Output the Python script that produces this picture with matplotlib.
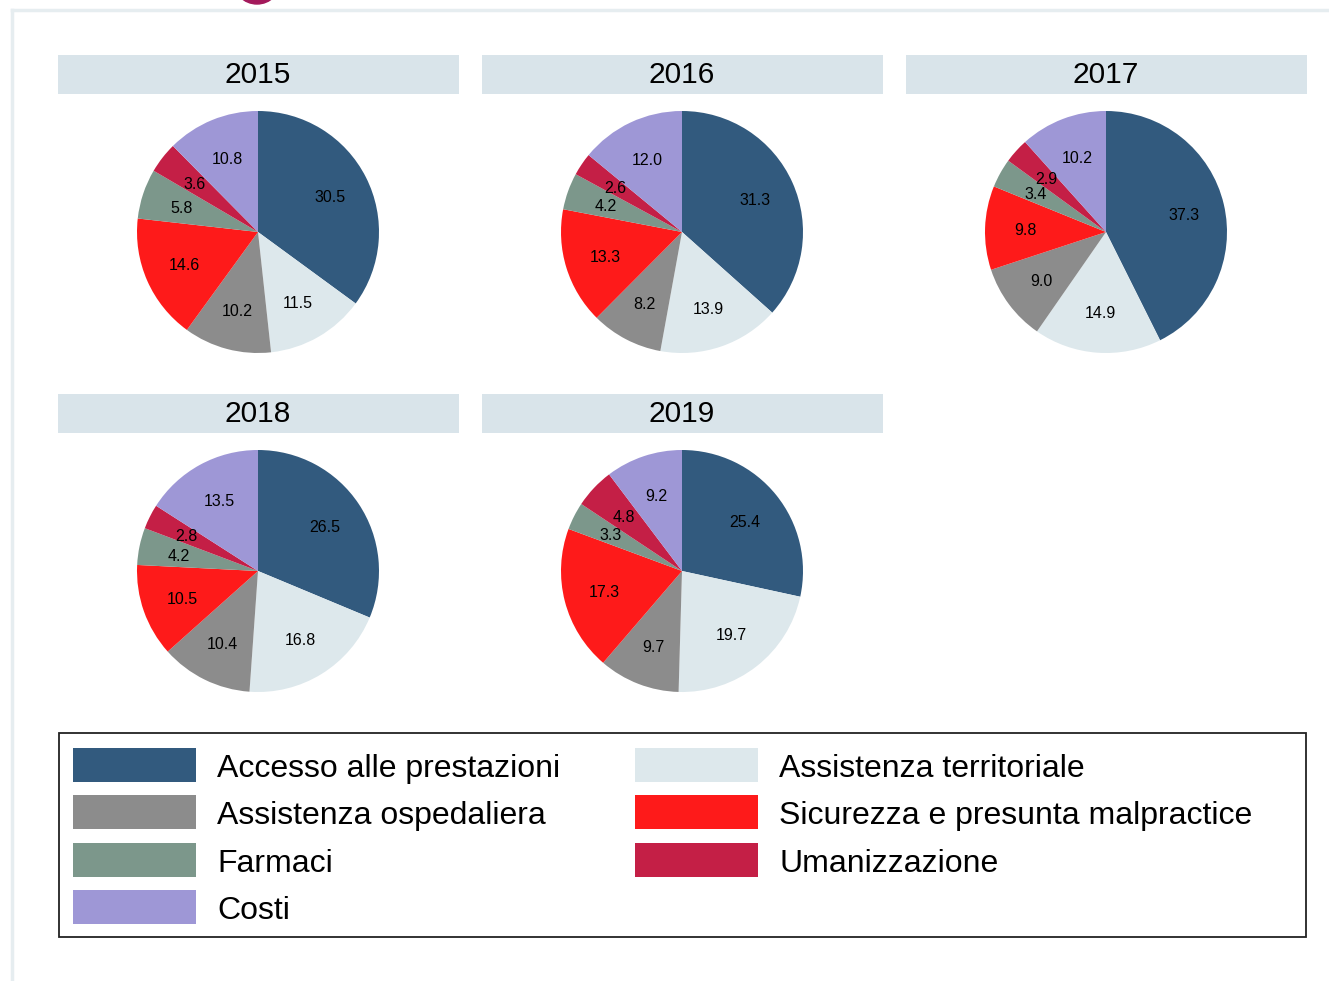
import matplotlib
matplotlib.use('Agg')
import matplotlib.pyplot as plt
from matplotlib.patches import Rectangle, Ellipse
from matplotlib.lines import Line2D

plt.rcParams['font.family'] = ['Liberation Sans', 'DejaVu Sans']

# categories, in clockwise order starting from 12 o'clock
categories = ['Accesso alle prestazioni', 'Assistenza territoriale', 'Assistenza ospedaliera',
              'Sicurezza e presunta malpractice', 'Farmaci', 'Umanizzazione', 'Costi']
colors = ['#325a7e', '#dde8ec', '#8c8c8c', '#fe1a1a', '#7c978b', '#c41f46', '#9e97d6']

years = ['2015', '2016', '2017', '2018', '2019']
v2015 = [30.5, 11.5, 10.2, 14.6, 5.8, 3.6, 10.8]
v2016 = [31.3, 13.9, 8.2, 13.3, 4.2, 2.6, 12.0]
v2017 = [37.3, 14.9, 9.0, 9.8, 3.4, 2.9, 10.2]
v2018 = [26.5, 16.8, 10.4, 10.5, 4.2, 2.8, 13.5]
v2019 = [25.4, 19.7, 9.7, 17.3, 3.3, 4.8, 9.2]
values = [v2015, v2016, v2017, v2018, v2019]

W, H = 1329, 981
fig = plt.figure(figsize=(W / 100, H / 100), dpi=100)


def fx(x):
    return x / W


def fy(y):
    return 1 - y / H


# outer frame lines and clipped logo at top
fig.add_artist(Line2D([fx(12), 1], [fy(10), fy(10)], color='#e6edf0', lw=2.5))
fig.add_artist(Line2D([fx(12), fx(12)], [fy(10), 0], color='#e6edf0', lw=2.5))
fig.add_artist(Ellipse((fx(257), fy(-20)), 48 / W, 48 / H, color='#a3195b'))

# pie centres (pixels) and title bar positions
centres = [(258, 232), (682, 232), (1106, 232), (258, 571), (682, 571)]
radius = 121

for yr, vals, (cx, cy) in zip(years, values, centres):
    # title strip
    bx0, by0 = cx - 200, cy - 177
    fig.add_artist(Rectangle((fx(bx0), fy(by0 + 39)), 401 / W, 39 / H,
                             facecolor='#d9e4ea', edgecolor='none'))
    fig.text(fx(cx), fy(by0 + 20), yr, ha='center', va='center', fontsize=21.5)

    ax = fig.add_axes([fx(cx - radius), fy(cy + radius), 2 * radius / W, 2 * radius / H])
    ax.pie(vals, colors=colors, startangle=90, counterclock=False,
           labels=[f'{v:.1f}' for v in vals], labeldistance=0.665,
           textprops=dict(fontsize=11.5, ha='center', va='center_baseline'),
           wedgeprops=dict(linewidth=0))
    ax.set_xlim(-1, 1)
    ax.set_ylim(-1, 1)
    ax.set_aspect('equal')
    ax.axis('off')

# legend box
fig.add_artist(Rectangle((fx(59), fy(937)), 1247 / W, 204 / H,
                         facecolor='white', edgecolor='#222222', lw=1.3))
left_col = [0, 2, 4, 6]
right_col = [1, 3, 5]
row_y = [765, 812, 860, 907]
for col, idx_list in ((73, left_col), (635, right_col)):
    for r, i in enumerate(idx_list):
        y = row_y[r]
        fig.add_artist(Rectangle((fx(col), fy(y + 17)), 123 / W, 34 / H,
                                 facecolor=colors[i], edgecolor='none'))
        fig.text(fx(col + 144), fy(y + 4), categories[i], ha='left', va='center',
                 fontsize=23)

fig.savefig('out.png', dpi=100)
